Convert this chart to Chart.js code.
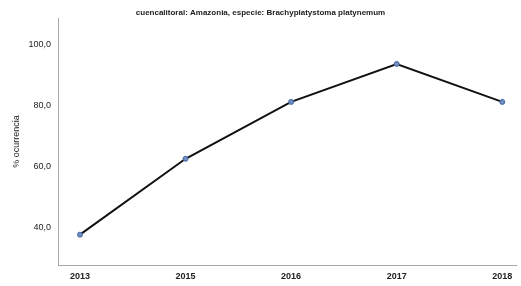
<!DOCTYPE html>
<html>
<head>
<meta charset="utf-8">
<script src="https://cdn.jsdelivr.net/npm/chart.js@4"></script>
<style>
  html, body { margin:0; padding:0; background:#fff; }
  #wrap { width:521px; height:286px; }
</style>
</head>
<body>
<div id="wrap"><canvas id="chart" width="521" height="286"></canvas></div>
<script>
/* ===== line chart: % ocurrencia by year ===== */
const YEARS = ["2013", "2015", "2016", "2017", "2018"];
const OCURRENCIA = [37.5, 62.5, 81.25, 93.75, 81.25];
const Y_TICKS = [40, 60, 80, 100];

const FMT = v => v.toFixed(1).replace(".", ",");
const FONT = "'Liberation Sans', Arial, sans-serif";

new Chart(document.getElementById("chart"), {
  type: "line",
  data: {
    datasets: [{
      data: OCURRENCIA.map((v, i) => ({ x: i, y: v })),
      borderColor: "#111",
      borderWidth: 2,
      pointRadius: 2.5,
      pointBackgroundColor: "#6d8fc4",
      pointBorderColor: "#4767a0",
      pointBorderWidth: 1,
      tension: 0
    }]
  },
  options: {
    responsive: false,
    animation: false,
    layout: { padding: 0 },
    plugins: {
      legend: { display: false },
      tooltip: { enabled: false },
      title: {
        display: true,
        text: "cuencalitoral: Amazonia, especie: Brachyplatystoma platynemum",
        color: "#222",
        font: { family: FONT, size: 8, weight: "bold" },
        padding: { top: 8, bottom: 0.4 }
      }
    },
    scales: {
      x: {
        type: "linear",
        min: -0.208, max: 4.13,
        grid: { display: false, drawTicks: false },
        border: { display: true, color: "#a8a8a8", width: 1 },
        ticks: {
          stepSize: 1,
          includeBounds: false,
          padding: 6,
          color: "#222",
          font: { family: FONT, size: 9, weight: "bold" },
          callback: v => YEARS[v] ?? ""
        },
        afterFit: s => { s.height = 21; }
      },
      y: {
        min: 27.5, max: 108.9,
        grid: { display: false, drawTicks: false },
        border: { display: true, color: "#a8a8a8", width: 1 },
        afterBuildTicks: s => { s.ticks = Y_TICKS.map(v => ({ value: v })); },
        ticks: {
          padding: 7,
          color: "#222",
          font: { family: FONT, size: 9 },
          callback: v => FMT(v)
        },
        title: {
          display: true,
          text: "% ocurrencia",
          color: "#222",
          font: { family: FONT, size: 9 },
          padding: { top: 11, bottom: 0 }
        },
        afterFit: s => { s.width = 58; }
      }
    }
  }
});
</script>
</body>
</html>
